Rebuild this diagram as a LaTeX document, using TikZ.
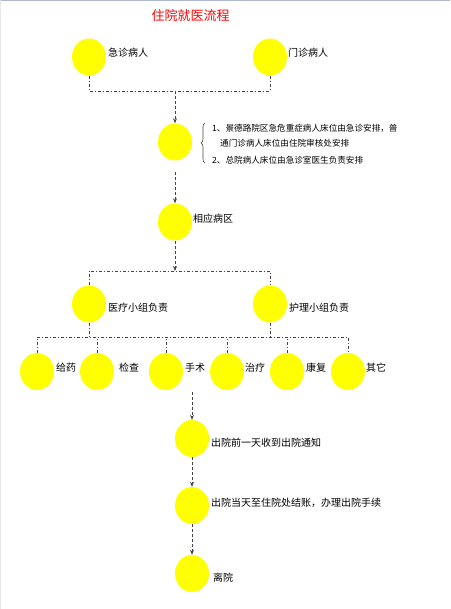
\documentclass[tikz,border=0pt]{standalone}
\usepackage{fontspec}
\setmainfont{Noto Sans CJK SC}
\usetikzlibrary{shapes.geometric,arrows.meta,decorations.pathreplacing}
\definecolor{ball}{HTML}{FFFF00}
\definecolor{conn}{HTML}{444444}
\tikzset{
  ballnode/.style={ellipse, fill=ball, draw=none, minimum width=34pt, minimum height=37pt, inner sep=0pt},
  lbl/.style={anchor=west, inner sep=0pt, font=\fontsize{10}{12}\selectfont, text=black},
  note/.style={anchor=west, inner sep=0pt, font=\fontsize{8.6}{10}\selectfont, text=black},
  dashline/.style={draw=conn, line width=0.7pt, dash pattern=on 3pt off 2pt on 1pt off 2pt},
  dasharrow/.style={draw=conn, line width=0.7pt, dash pattern=on 3pt off 2pt, -{Stealth[length=5pt,width=4pt]}},
}
\begin{document}
\begin{tikzpicture}[x=1pt,y=-1pt]
\useasboundingbox (0,0) rectangle (450,609);
\fill[white] (0,0) rectangle (450,609);
\draw[color={rgb,255:red,176;green,184;blue,208}, line width=1.5pt] (0,0.75) -- (450,0.75);
\draw[color={rgb,255:red,228;green,230;blue,240}, line width=1pt] (0.5,0) -- (0.5,609);

\node[text=red, font=\fontsize{13}{15}\selectfont] (title) at (190.5,16) {住院就医流程};

% top row
\node[ballnode] (a) at (89,57) {};
\node[lbl] (al) at (108,53) {急诊病人};
\node[ballnode] (b) at (270,57) {};
\node[lbl] (bl) at (288,53) {门诊病人};
\coordinate (j1) at (175,91);

% arrangement
\node[ballnode] (c) at (175,142) {};
\draw[decorate, decoration={brace, amplitude=4pt}, draw=conn, line width=0.6pt] (205,163) -- (205,123);
\node[note] (n1) at (212,128) {1、景德路院区急危重症病人床位由急诊安排，普};
\node[note] (n2) at (220,143) {通门诊病人床位由住院审核处安排};
\node[note] (n3) at (212,160) {2、总院病人床位由急诊室医生负责安排};

\node[ballnode] (d) at (175,222) {};
\node[lbl] (dl) at (193,219) {相应病区};
\coordinate (c2) at (175,172);
\coordinate (h2) at (175,271);

\node[ballnode] (e) at (89,304) {};
\node[lbl] (el) at (108,308) {医疗小组负责};
\node[ballnode] (f) at (270,304) {};
\node[lbl] (fl) at (289,308) {护理小组负责};
\coordinate (h3) at (89,337);

\node[ballnode] (g1) at (37,371.5) {};
\node[lbl] (g1l) at (56,368) {给药};
\node[ballnode] (g2) at (97,371.5) {};
\node[lbl] (g2l) at (119,368) {检查};
\node[ballnode] (g3) at (166,371.5) {};
\node[lbl] (g3l) at (185,368) {手术};
\node[ballnode] (g4) at (227,371.5) {};
\node[lbl] (g4l) at (245,368) {治疗};
\node[ballnode] (g5) at (287,371.5) {};
\node[lbl] (g5l) at (306,368) {康复};
\node[ballnode] (g6) at (348,371.5) {};
\node[lbl] (g6l) at (366,368) {其它};

\coordinate (k) at (192,392);
\node[ballnode] (h) at (192,438.5) {};
\node[lbl] (hl) at (211,443) {出院前一天收到出院通知};
\node[ballnode] (i) at (192,505.5) {};
\node[lbl] (il) at (211,503) {出院当天至住院处结账，办理出院手续};
\node[ballnode] (j) at (192,573.5) {};
\node[lbl] (jl) at (213,578) {离院};

% connectors
\draw[dashline] (a.south) |- (j1) -| (b.south);
\draw[dasharrow] (j1) -- (c.north);
\draw[dasharrow] (c2) -- (d.north);
\draw[dasharrow] (d.south) -- (h2);
\draw[dashline] (e.north) |- (h2) -| (f.north);
\draw[dashline] (e.south) -- (h3);
\draw[dashline] (f.south) -- (f.south |- h3);
\draw[dashline] (g1.north) -- (g1.north |- h3) -- (g6.north |- h3) -- (g6.north);
\draw[dashline] (g2.north) -- (g2.north |- h3);
\draw[dashline] (g3.north) -- (g3.north |- h3);
\draw[dashline] (g4.north) -- (g4.north |- h3);
\draw[dashline] (g5.north) -- (g5.north |- h3);
\draw[dasharrow] (k) -- (h.north);
\draw[dasharrow] (h.south) -- (i.north);
\draw[dasharrow] (i.south) -- (j.north);
\end{tikzpicture}
\end{document}
